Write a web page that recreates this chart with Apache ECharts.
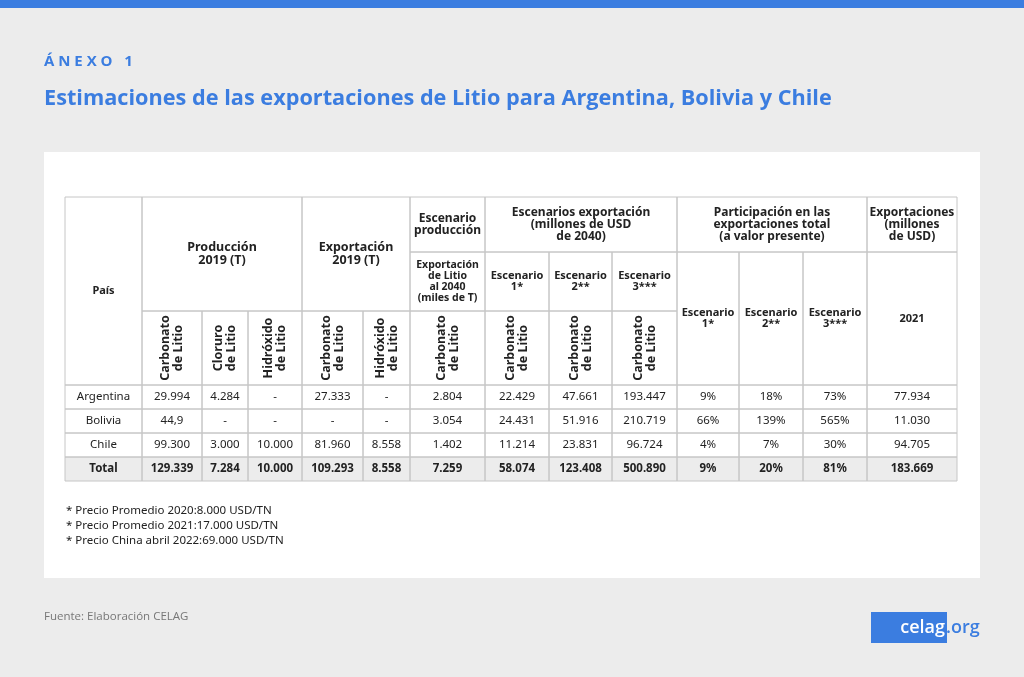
<!DOCTYPE html>
<html><head><meta charset="utf-8">
<script src="https://cdn.jsdelivr.net/npm/echarts@6/dist/echarts.min.js"></script>
<style>html,body{margin:0;padding:0;background:#ececec}#main{width:1024px;height:677px}</style>
</head><body><div id="main"></div>
<script>
var paises = ['Argentina', 'Bolivia', 'Chile', 'Total'];
var prodCarbonato = ['29.994', '44,9', '99.300', '129.339'];
var prodCloruro = ['4.284', '-', '3.000', '7.284'];
var prodHidroxido = ['-', '-', '10.000', '10.000'];
var expCarbonato = ['27.333', '-', '81.960', '109.293'];
var expHidroxido = ['-', '-', '8.558', '8.558'];
var escProduccion = ['2.804', '3.054', '1.402', '7.259'];
var escExp1 = ['22.429', '24.431', '11.214', '58.074'];
var escExp2 = ['47.661', '51.916', '23.831', '123.408'];
var escExp3 = ['193.447', '210.719', '96.724', '500.890'];
var part1 = ['9%', '66%', '4%', '9%'];
var part2 = ['18%', '139%', '7%', '20%'];
var part3 = ['73%', '565%', '30%', '81%'];
var exp2021 = ['77.934', '11.030', '94.705', '183.669'];
var notas = ['* Precio Promedio 2020:8.000 USD/TN', '* Precio Promedio 2021:17.000 USD/TN', '* Precio China abril 2022:69.000 USD/TN'];

var colX = [65, 142, 202, 248, 302, 363, 410, 485, 549, 612, 677, 739, 803, 867, 957];
var rowY = [197, 252, 311, 385, 409, 433, 457, 481];
var FONT = '"Noto Sans", sans-serif';
var BLUE = '#3b7de0';

var header = [
  [0, 1, 0, 3, 'País', 11],
  [1, 4, 0, 2, 'Producción\n2019 (T)', 12.5],
  [4, 6, 0, 2, 'Exportación\n2019 (T)', 12.5],
  [6, 7, 0, 1, 'Escenario\nproducción', 12],
  [6, 7, 1, 2, 'Exportación\nde Litio\nal 2040\n(miles de T)', 10.5],
  [7, 10, 0, 1, 'Escenarios exportación\n(millones de USD\nde 2040)', 12],
  [7, 8, 1, 2, 'Escenario\n1*'], [8, 9, 1, 2, 'Escenario\n2**'], [9, 10, 1, 2, 'Escenario\n3***'],
  [10, 13, 0, 1, 'Participación en las\nexportaciones total\n(a valor presente)', 12],
  [10, 11, 1, 3, 'Escenario\n1*'], [11, 12, 1, 3, 'Escenario\n2**'], [12, 13, 1, 3, 'Escenario\n3***'],
  [13, 14, 0, 1, 'Exportaciones\n(millones\nde USD)', 12],
  [13, 14, 1, 3, '2021', 11]
];
var rotados = ['Carbonato\nde Litio', 'Cloruro\nde Litio', 'Hidróxido\nde Litio', 'Carbonato\nde Litio', 'Hidróxido\nde Litio',
  'Carbonato\nde Litio', 'Carbonato\nde Litio', 'Carbonato\nde Litio', 'Carbonato\nde Litio'];
var columnas = [paises, prodCarbonato, prodCloruro, prodHidroxido, expCarbonato, expHidroxido, escProduccion,
  escExp1, escExp2, escExp3, part1, part2, part3, exp2021];

var els = [];
els.push({ type: 'rect', shape: { x: 0, y: 0, width: 1024, height: 8 }, style: { fill: BLUE } });
els.push({ type: 'rect', shape: { x: 44, y: 152, width: 936, height: 426 }, style: { fill: '#fff' } });
// fila total
els.push({ type: 'rect', shape: { x: colX[0], y: rowY[6], width: colX[14] - colX[0], height: rowY[7] - rowY[6] }, style: { fill: '#ececec' } });

function cell(c0, c1, r0, r1, txt, size, bold, rot) {
  var cx = (colX[c0] + colX[c1]) / 2, cy = (rowY[r0] + rowY[r1]) / 2;
  els.push({ type: 'rect', shape: { x: colX[c0], y: rowY[r0], width: colX[c1] - colX[c0], height: rowY[r1] - rowY[r0] },
    style: { fill: 'none', stroke: '#c6c6c6', lineWidth: 1 } });
  els.push({ type: 'text', x: cx, y: cy, rotation: rot ? Math.PI / 2 : 0,
    style: { text: txt, x: 0, y: 0, align: 'center', verticalAlign: 'middle', fill: '#222',
      font: (bold ? 'bold ' : '') + (size || 10.5) + 'px ' + FONT, lineHeight: Math.round((size || 10.5) * 1.0) } });
}
header.forEach(function (h) { cell(h[0], h[1], h[2], h[3], h[4], h[5] || 11, true); });
rotados.forEach(function (t, i) { cell(i + 1, i + 2, 2, 3, t, 12.5, true, true); });
columnas.forEach(function (col, c) {
  col.forEach(function (v, r) { cell(c, c + 1, r + 3, r + 4, v, 11.5, r === 3); });
});

els.push({ type: 'text', x: 44, y: 54, style: { text: 'Á N E X O   1', fill: BLUE, font: 'bold 15px "Open Sans", sans-serif' } });
els.push({ type: 'text', x: 44, y: 88, style: { text: 'Estimaciones de las exportaciones de Litio para Argentina, Bolivia y Chile', fill: BLUE, font: 'bold 21.7px "Open Sans", sans-serif' } });
notas.forEach(function (n, i) {
  els.push({ type: 'text', x: 66, y: 505 + i * 15, style: { text: n, fill: '#222', font: '11.5px ' + FONT } });
});
els.push({ type: 'text', x: 44, y: 611, style: { text: 'Fuente: Elaboración CELAG', fill: '#777', font: '11.5px "Open Sans", sans-serif' } });
els.push({ type: 'rect', shape: { x: 871, y: 612, width: 76, height: 31 }, style: { fill: BLUE } });
els.push({ type: 'text', x: 945, y: 628, style: { text: 'celag', fill: '#fff', align: 'right', verticalAlign: 'middle', font: '600 18px "Open Sans", sans-serif' } });
els.push({ type: 'text', x: 946, y: 628, style: { text: '.org', fill: BLUE, verticalAlign: 'middle', font: '600 18px "Open Sans", sans-serif' } });

var chart = echarts.init(document.getElementById('main'));
chart.setOption({ backgroundColor: '#ececec', graphic: { elements: els } });
</script></body></html>
